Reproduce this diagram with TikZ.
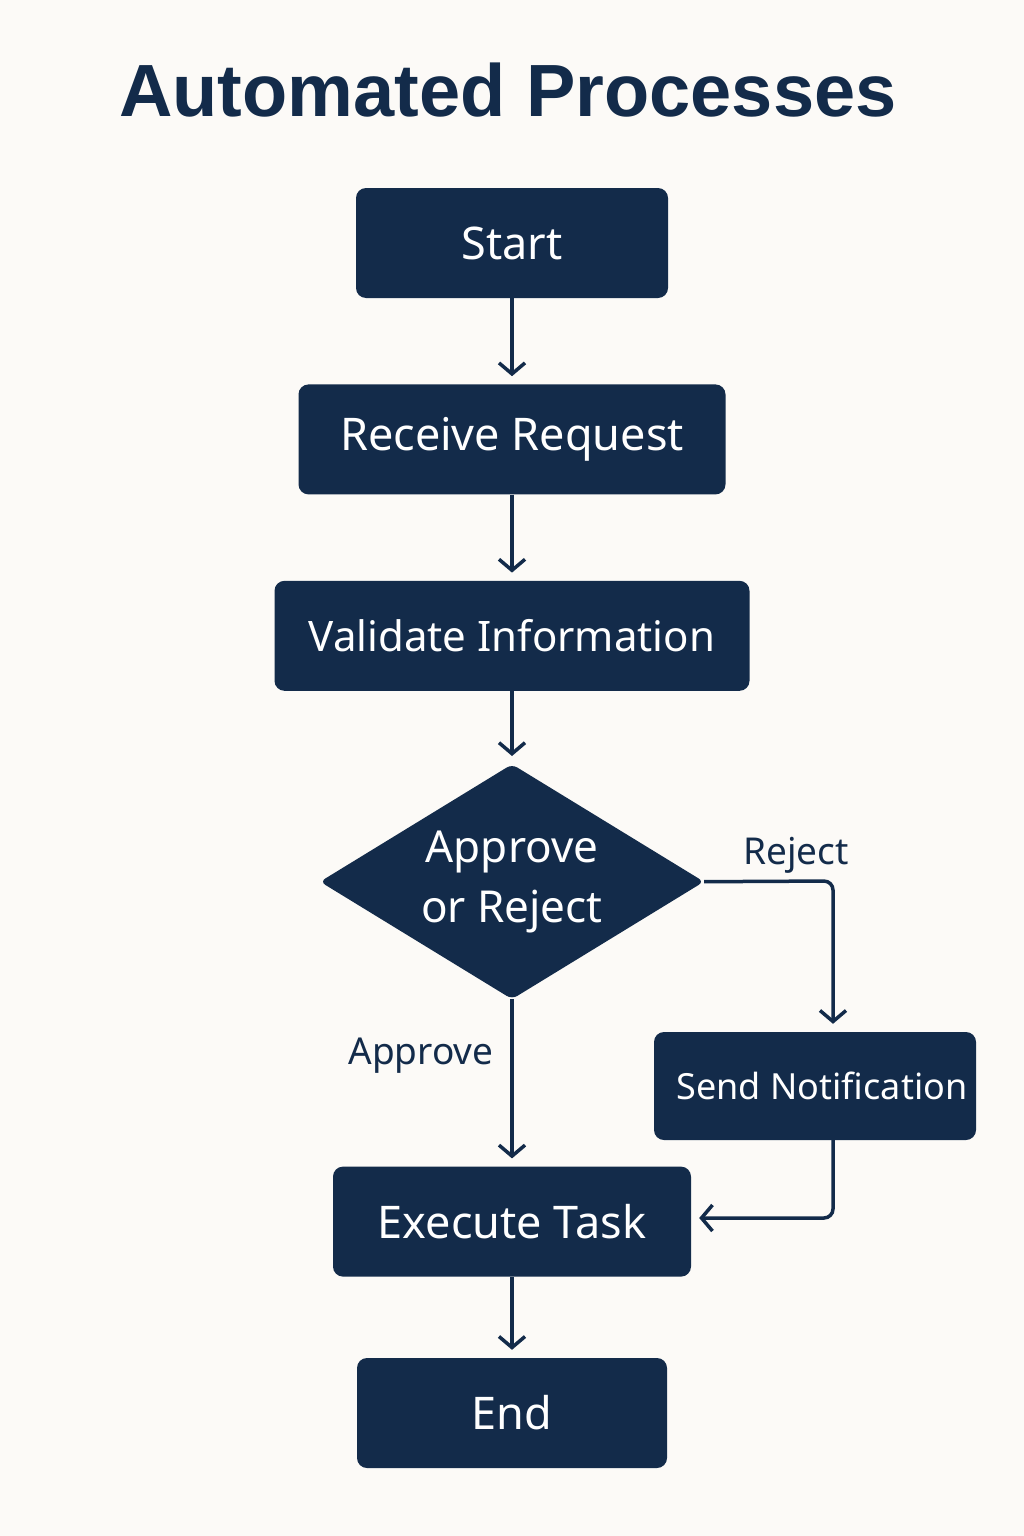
\documentclass[tikz,border=0pt]{standalone}
\usepackage{fontspec}
\setmainfont{Noto Sans}
\newfontfamily\titlefont{Liberation Sans}
\usetikzlibrary{arrows.meta,positioning,shapes.geometric}

\definecolor{navy}{HTML}{132B4A}
\definecolor{paper}{HTML}{FCFAF7}

\tikzset{
  procbox/.style={rectangle, rounded corners=10pt, fill=navy, text=white,
    minimum height=110pt, inner sep=0pt, font=\fontsize{45}{50}\selectfont},
  decision/.style={diamond, fill=navy, text=white, inner sep=0pt,
    shape aspect=1.634, minimum width=384pt, minimum height=235pt,
    rounded corners=6pt, align=center, font=\fontsize{44}{60}\selectfont},
  flow/.style={draw=navy, line width=3.5pt, rounded corners=9pt, shorten >=8pt,
    -{Straight Barb[length=11pt,width=26pt,line width=3.5pt]}},
  edgelabel/.style={text=navy, font=\fontsize{37}{42}\selectfont}
}

\begin{document}
\begin{tikzpicture}[x=1pt,y=-1pt]
  \fill[paper] (0,0) rectangle (1024,1536);
  \useasboundingbox (0,0) rectangle (1024,1536);

  \node[text=navy, font=\titlefont\bfseries\fontsize{74}{78}\selectfont]
    (title) at (508,90) {Automated Processes};

  \node[procbox, minimum width=312pt] (start)    at (512,243) {Start};
  \node[procbox, minimum width=427pt] (receive)  [below=86pt of start]   {Receive Request};
  \node[procbox, minimum width=475pt, font=\fontsize{42}{48}\selectfont]
                                      (validate) [below=86pt of receive] {Validate Information};
  \node[decision]                     (choice)   [below=73pt of validate] {Approve\\or Reject};
  \node[procbox, minimum width=358pt] (execute)  [below=167pt of choice] {Execute Task};
  \node[procbox, minimum width=310pt] (finish)   [below=81pt of execute] {End};
  \node[procbox, minimum width=322pt, minimum height=108pt, font=\fontsize{36}{42}\selectfont]
                                      (notify)   at (815,1086) {\hspace*{14pt}Send Notification};

  \coordinate (rejectcorner) at (833,881);
  \coordinate (backcorner)   at (833,1218);

  \draw[flow] (start) -- (receive);
  \draw[flow] (receive) -- (validate);
  \draw[flow] (validate) -- (choice);
  \draw[flow] (choice) -- (execute);
  \draw[flow] (execute) -- (finish);
  \draw[flow] (choice.east) -- (rejectcorner) -- (notify.north -| rejectcorner);
  \draw[flow] (notify.south -| backcorner) -- (backcorner) -- (execute.east |- backcorner);

  \node[edgelabel] (rejectlabel)  at (796,855)  {Reject};
  \node[edgelabel] (approvelabel) at (421,1056) {Approve};
\end{tikzpicture}
\end{document}
